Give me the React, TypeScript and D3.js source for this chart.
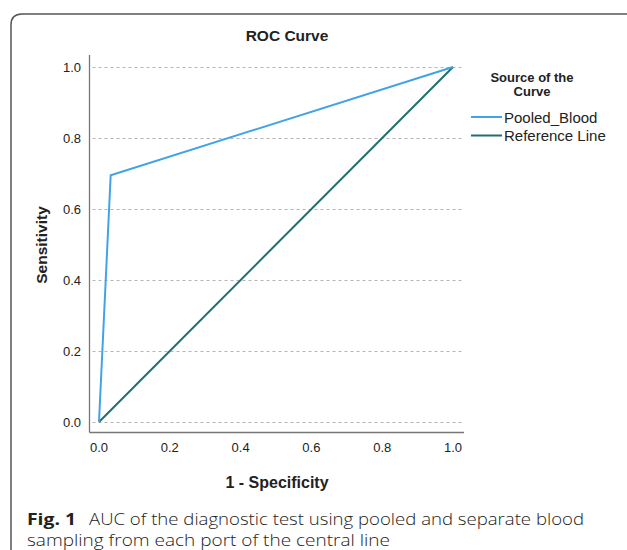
import React from "react";
import * as d3 from "d3";

// ROC points (1 - specificity, sensitivity)
const pooledFpr = [0, 0.033, 1];
const pooledTpr = [0, 0.695, 1];
const refFpr = [0, 1];
const refTpr = [0, 1];
const ticks = [0, 0.2, 0.4, 0.6, 0.8, 1.0];
const seriesNames = ["Pooled_Blood", "Reference Line"];
const seriesColors = ["#42a2e6", "#1f6f6b"];

const W = 627;
const H = 550;

export default function App() {
  const x = d3.scaleLinear().domain([0, 1]).range([99, 453]);
  const y = d3.scaleLinear().domain([0, 1]).range([422, 67]);
  const line = d3
    .line<[number, number]>()
    .x((d) => x(d[0]))
    .y((d) => y(d[1]));

  const pooled = pooledFpr.map((v, i) => [v, pooledTpr[i]] as [number, number]);
  const ref = refFpr.map((v, i) => [v, refTpr[i]] as [number, number]);

  const font = "'Liberation Sans', Arial, sans-serif";
  const capFont = "'Open Sans', 'Noto Sans', sans-serif";
  const axisLeft = 89.5;
  const axisBottom = 432.5;
  const plotRight = 464;

  return (
    <svg
      width={W}
      height={H}
      style={{ position: "absolute", left: 0, top: 0, background: "#fff" }}
    >
      {/* frame */}
      <path
        d={`M11,${H + 5} L11,25 Q11,14 22,14 L${W + 5},14`}
        fill="none"
        stroke="#555"
        strokeWidth={1.5}
      />

      <text x={287} y={41} textAnchor="middle" fontFamily={font} fontWeight="bold" fontSize={15.5} fill="#222">
        ROC Curve
      </text>

      {/* grid */}
      {ticks.map((t) => (
        <line
          key={"g" + t}
          x1={axisLeft + 3}
          x2={plotRight}
          y1={Math.round(y(t)) + 0.5}
          y2={Math.round(y(t)) + 0.5}
          stroke="#b5b5b5"
          strokeDasharray="3,3"
        />
      ))}

      {/* axes */}
      <line x1={axisLeft} x2={axisLeft} y1={55} y2={axisBottom} stroke="#777" strokeWidth={1.3} />
      <line x1={axisLeft} x2={plotRight} y1={axisBottom} y2={axisBottom} stroke="#777" strokeWidth={1.3} />

      {ticks.map((t) => (
        <text key={"yl" + t} x={81} y={y(t) + 5} textAnchor="end" fontFamily={font} fontSize={13} fill="#222">
          {t.toFixed(1)}
        </text>
      ))}
      {ticks.map((t) => (
        <text key={"xl" + t} x={x(t)} y={452} textAnchor="middle" fontFamily={font} fontSize={13} fill="#222">
          {t.toFixed(1)}
        </text>
      ))}

      <text
        transform={`translate(47,245) rotate(-90)`}
        textAnchor="middle"
        fontFamily={font}
        fontWeight="bold"
        fontSize={15.5}
        fill="#222"
      >
        Sensitivity
      </text>
      <text x={277} y={488} textAnchor="middle" fontFamily={font} fontWeight="bold" fontSize={16} fill="#222">
        1 - Specificity
      </text>

      {/* curves */}
      <path d={line(ref) || ""} fill="none" stroke={seriesColors[1]} strokeWidth={2} />
      <path d={line(pooled) || ""} fill="none" stroke={seriesColors[0]} strokeWidth={2} />

      {/* legend */}
      <text x={532} y={82} textAnchor="middle" fontFamily={font} fontWeight="bold" fontSize={13} fill="#222">
        Source of the
      </text>
      <text x={532} y={96} textAnchor="middle" fontFamily={font} fontWeight="bold" fontSize={13} fill="#222">
        Curve
      </text>
      {seriesNames.map((n, i) => (
        <g key={n}>
          <line x1={471} x2={502} y1={117 + i * 18.5} y2={117 + i * 18.5} stroke={seriesColors[i]} strokeWidth={2} />
          <text x={504} y={122.5 + i * 18.5} fontFamily={font} fontSize={15} fill="#222">
            {n}
          </text>
        </g>
      ))}

      {/* caption */}
      <text
        x={27}
        y={525}
        fontFamily={capFont}
        fontSize={15.5}
        fontWeight="bold"
        fill="#222"
        textLength={49}
        lengthAdjust="spacingAndGlyphs"
      >
        Fig. 1
      </text>
      <text
        x={89}
        y={525}
        fontFamily={capFont}
        fontSize={15.5}
        fontWeight="300"
        fill="#222"
        textLength={495}
        lengthAdjust="spacingAndGlyphs"
      >
        AUC of the diagnostic test using pooled and separate blood
      </text>
      <text
        x={27}
        y={545.5}
        fontFamily={capFont}
        fontSize={15.5}
        fontWeight="300"
        fill="#222"
        textLength={363}
        lengthAdjust="spacingAndGlyphs"
      >
        sampling from each port of the central line
      </text>
    </svg>
  );
}
